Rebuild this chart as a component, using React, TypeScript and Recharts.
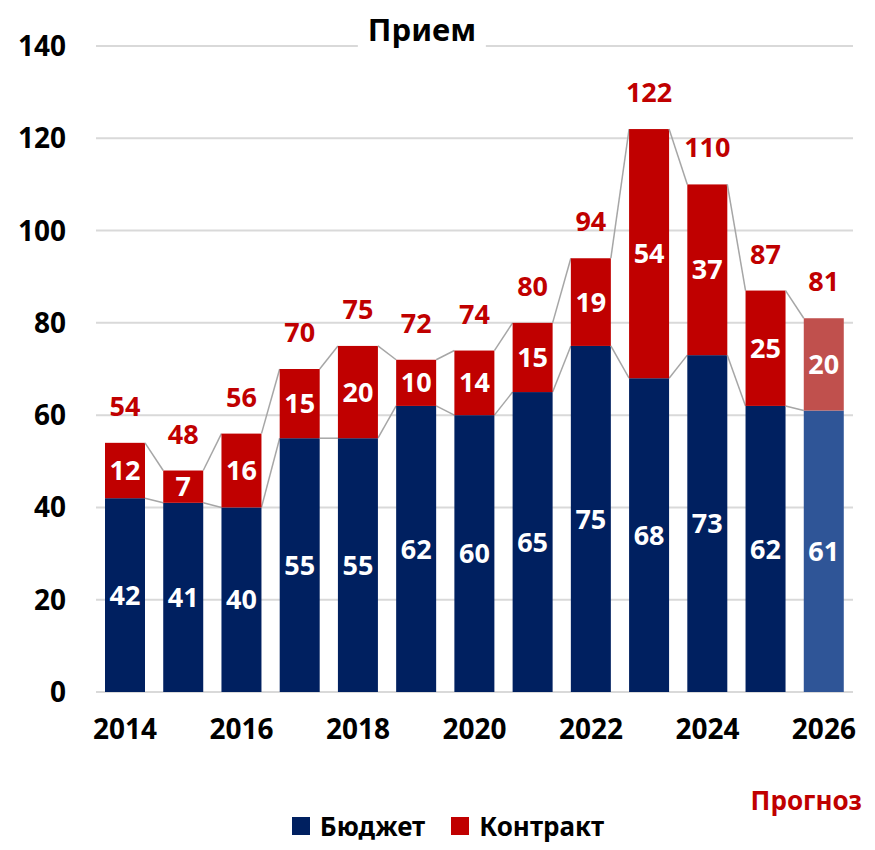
import React from 'react';
import { BarChart, Bar, XAxis, YAxis, CartesianGrid, LabelList } from 'recharts';

const years = ['2014', '2015', '2016', '2017', '2018', '2019', '2020', '2021', '2022', '2023', '2024', '2025', '2026'];
const budget = [42, 41, 40, 55, 55, 62, 60, 65, 75, 68, 73, 62, 61];
const contract = [12, 7, 16, 15, 20, 10, 14, 15, 19, 54, 37, 25, 20];
const forecastYear = '2026';
const yTicks = [0, 20, 40, 60, 80, 100, 120, 140];

const NAVY = '#002060';
const RED = '#C00000';
const NAVY_LIGHT = '#2F5597';
const RED_LIGHT = '#C0504D';
const FONT = '"Noto Sans", "Open Sans", sans-serif';

const W = 860;
const H = 834;
const MARGIN = { top: 38, right: 15, left: 0, bottom: 110 };
const Y_AXIS_W = 88;
const STEP = (W - MARGIN.left - MARGIN.right - Y_AXIS_W) / years.length;

const data = years.map((year, i) => ({
  year,
  budget: budget[i],
  contract: contract[i],
  total: budget[i] + contract[i],
  forecast: year === forecastYear,
}));

// bar segment + grey series line to the same segment of the next bar
const makeShape = (kind: 'budget' | 'contract') => (props: any) => {
  const { x, y, width, height, index, payload } = props;
  const value = kind === 'budget' ? payload.budget : payload.contract;
  const ppu = height / value;
  const zeroY = kind === 'budget' ? y + height : y + height + payload.budget * ppu;
  const next = data[index + 1];
  let line = null;
  if (next) {
    const nextTop = kind === 'budget' ? next.budget : next.total;
    line = (
      <line
        x1={x + width}
        y1={y}
        x2={x + STEP}
        y2={zeroY - nextTop * ppu}
        stroke="#A6A6A6"
        strokeWidth={1.5}
      />
    );
  }
  const fill = kind === 'budget'
    ? (payload.forecast ? NAVY_LIGHT : NAVY)
    : (payload.forecast ? RED_LIGHT : RED);
  return (
    <g>
      <rect x={x} y={y} width={width} height={height} fill={fill} />
      {line}
    </g>
  );
};

const renderTotal = (props: any) => {
  const { x, y, width, value } = props;
  return (
    <text x={x + width / 2} y={y - 27} textAnchor="middle" fill={RED} fontSize={27} fontWeight="bold" fontFamily={FONT}>
      {value}
    </text>
  );
};

const App = () => {
  return (
    <div style={{ position: 'relative', width: W, height: H, fontFamily: FONT }}>
      <BarChart width={W} height={H} data={data} margin={MARGIN} barSize={40}>
        <CartesianGrid vertical={false} stroke="#D9D9D9" strokeWidth={2} />
        <XAxis
          dataKey="year"
          interval={1}
          axisLine={false}
          tickLine={false}
          tickMargin={21}
          height={40}
          tick={{ fill: '#000', fontSize: 28, fontWeight: 'bold', fontFamily: FONT }}
        />
        <YAxis
          domain={[0, 140]}
          ticks={yTicks}
          width={Y_AXIS_W}
          axisLine={false}
          tickLine={false}
          tickMargin={24}
          tick={{ fill: '#000', fontSize: 28, fontWeight: 'bold', fontFamily: FONT }}
        />
        <Bar dataKey="budget" stackId="a" fill={NAVY} shape={makeShape('budget')} isAnimationActive={false}>
          <LabelList dataKey="budget" position="center" fill="#fff" fontSize={27} fontWeight="bold" fontFamily={FONT} />
        </Bar>
        <Bar dataKey="contract" stackId="a" fill={RED} shape={makeShape('contract')} isAnimationActive={false}>
          <LabelList dataKey="contract" position="center" fill="#fff" fontSize={27} fontWeight="bold" fontFamily={FONT} />
          <LabelList dataKey="total" content={renderTotal} />
        </Bar>
      </BarChart>
      <div
        style={{
          position: 'absolute', left: 414, top: 0, transform: 'translateX(-50%)',
          background: '#fff', padding: '0 10px', fontSize: 31, fontWeight: 'bold', color: '#000',
        }}
      >
        Прием
      </div>
      <div style={{ position: 'absolute', right: 6, top: 774, fontSize: 26, fontWeight: 'bold', color: RED }}>
        Прогноз
      </div>
      <div
        style={{
          position: 'absolute', left: 0, width: 880, top: 800, display: 'flex', justifyContent: 'center',
          gap: 26, fontSize: 26, fontWeight: 'bold', color: '#000',
        }}
      >
        {[['Бюджет', NAVY], ['Контракт', RED]].map(([name, color]) => (
          <div key={name} style={{ display: 'flex', alignItems: 'center', gap: 10 }}>
            <span style={{ width: 18, height: 18, background: color, display: 'inline-block' }} />
            <span>{name}</span>
          </div>
        ))}
      </div>
    </div>
  );
};

export default App;
